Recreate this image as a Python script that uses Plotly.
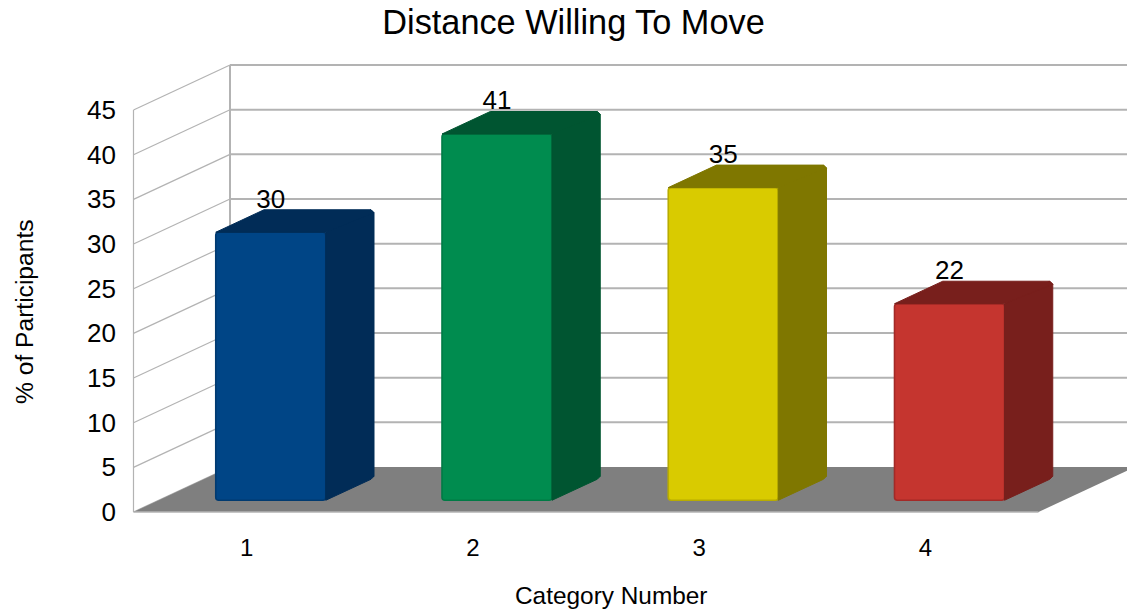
import plotly.graph_objects as go

categories = [1, 2, 3, 4]
values = [30, 41, 35, 22]
y_ticks = [0, 5, 10, 15, 20, 25, 30, 35, 40, 45]
front_colors = ["#004586", "#008c4f", "#d9cb00", "#c5352f"]
edge_colors = ["#003a70", "#007a45", "#b8ac00", "#a32a27"]
dark_colors = ["#012c57", "#005531", "#7f7700", "#781f1c"]

# Oblique projection, in axis units
PX_X = 226.25
PX_Y = 8.933
DX = 96.5 / PX_X
DY = 45 / PX_Y
X0 = 0.5
X_END = 4.5
X_MIN = X0 - 13.5 / PX_X
X_MAX = X0 + 993.5 / PX_X
Y_MIN = -8 / PX_Y
Y_MAX = 452 / PX_Y
BAR_W = 110 / PX_X
GRID = "#b3b3b3"
CX = 3 / PX_X   # small chamfer on the block's outer corners
CY = 3 / PX_Y

fig = go.Figure()


def seg(x0, y0, x1, y1, width):
    return dict(type="line", xref="x", yref="y", x0=x0, y0=y0, x1=x1, y1=y1,
                layer="below", line=dict(color=GRID, width=width))


shapes = []
for v in y_ticks:
    shapes.append(seg(X0, v, X0 + DX, v + DY, 1.2))
    if v > 0:
        shapes.append(seg(X0 + DX, v + DY, X_MAX, v + DY, 2))
shapes.append(seg(X0, 0, X0, y_ticks[-1], 1.2))
shapes.append(seg(X0 + DX, DY, X0 + DX, y_ticks[-1] + DY, 2))
shapes.append(dict(
    type="path", xref="x", yref="y", layer="below",
    path=f"M {X0} 0 L {X_END} 0 L {X_END + DX} {DY} L {X0 + DX} {DY} Z",
    fillcolor="#7f7f7f", line=dict(width=0)))
shapes.append(seg(X0, 0, X_END, 0, 1.5))

bar_x = [c + 0.25 * DX for c in categories]
base = 0.25 * DY + 0.5 / PX_Y
fig.add_trace(go.Bar(
    x=bar_x, y=values, base=base, width=BAR_W,
    marker=dict(color=front_colors, line=dict(color=edge_colors, width=1.6)),
    hoverinfo="skip", showlegend=False,
))

for x, v, dark in zip(bar_x, values, dark_colors):
    xl, xr = x - BAR_W / 2, x + BAR_W / 2
    top = v + base
    xb = xr + DX / 2
    yb = top + DY / 2
    side_x = [xr, xb - CX, xb, xb, xb - CX, xr, xr]
    side_y = [base, base + DY / 2 - CY / 2, base + DY / 2 + CY / 2, yb - CY, yb, top, base]
    top_x = [xl, xl + DX / 2, xb - CX, xb, xr, xl]
    top_y = [top, yb, yb, yb - CY, top, top]
    for px, py in ((side_x, side_y), (top_x, top_y)):
        fig.add_trace(go.Scatter(
            x=px, y=py, mode="lines", fill="toself", fillcolor=dark,
            line=dict(color=dark, width=1), hoverinfo="skip", showlegend=False,
        ))

fig.add_trace(go.Scatter(
    x=bar_x, y=[v + DY - 2 / PX_Y for v in values], mode="text",
    text=[str(v) for v in values], textposition="middle center",
    textfont=dict(family="Liberation Sans", size=26, color="#000000"),
    hoverinfo="skip", showlegend=False,
))

fig.update_layout(
    width=1127, height=609, autosize=False,
    margin=dict(l=120, r=0, t=60, b=89),
    paper_bgcolor="#ffffff", plot_bgcolor="#ffffff",
    font=dict(family="Liberation Sans", color="#000000"),
    shapes=shapes,
    title=dict(text="Distance Willing To Move", x=573.5 / 1127, xanchor="center",
               y=1 - 22 / 609, yanchor="middle", yref="container",
               font=dict(size=34.3, family="Liberation Sans", color="#000000")),
    xaxis=dict(range=[X_MIN, X_MAX], tickmode="array", tickvals=categories,
               ticktext=[str(c) for c in categories], showgrid=False, zeroline=False,
               showline=False, ticks="outside", ticklen=6, tickcolor="rgba(0,0,0,0)",
               tickfont=dict(size=24)),
    yaxis=dict(range=[Y_MIN, Y_MAX], tickmode="array", tickvals=y_ticks,
               ticktext=[str(v) for v in y_ticks], showgrid=False, zeroline=False,
               showline=False, ticks="", ticklabelstandoff=3, tickfont=dict(size=26)),
    barcornerradius=3,
    annotations=[
        dict(text="Category Number", xref="paper", yref="paper", showarrow=False,
             x=(611 - 120) / 1007, y=-(595 - 520) / 460, xanchor="center", yanchor="middle",
             font=dict(size=24.4)),
        dict(text="% of Participants", xref="paper", yref="paper", showarrow=False,
             textangle=-90, x=-(120 - 24) / 1007, y=(520 - 312) / 460,
             xanchor="center", yanchor="middle", font=dict(size=24.6)),
    ],
)

fig.write_html("out.html", config={"displayModeBar": False},
               post_script="document.body.style.margin='0';")
